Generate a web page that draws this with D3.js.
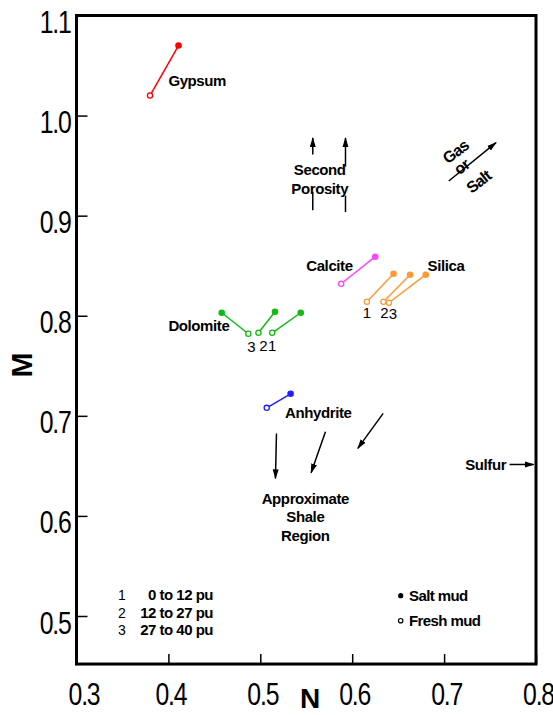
<!DOCTYPE html>
<html>
<head>
<meta charset="utf-8">
<script src="https://cdn.jsdelivr.net/npm/d3@7"></script>
<style>
  body { margin: 0; background: #fff; }
  svg text { font-family: "Liberation Sans", Arial, Helvetica, sans-serif; }
</style>
</head>
<body>
<div id="container"></div>
<script>
// M-N crossplot data
var minerals  = ["Gypsum", "Calcite", "Silica", "Silica", "Silica", "Dolomite", "Dolomite", "Dolomite", "Anhydrite"];
var porGroup  = ["", "", "1", "2", "3", "1", "2", "3", ""];
var nFresh    = [0.380, 0.588, 0.616, 0.634, 0.640, 0.513, 0.498, 0.487, 0.507];
var mFresh    = [1.020, 0.832, 0.814, 0.814, 0.813, 0.783, 0.783, 0.782, 0.708];
var nSalt     = [0.411, 0.625, 0.645, 0.663, 0.680, 0.544, 0.516, 0.458, 0.533];
var mSalt     = [1.070, 0.859, 0.842, 0.841, 0.841, 0.803, 0.804, 0.803, 0.722];

var xTicks = [0.3, 0.4, 0.5, 0.6, 0.7, 0.8];
var yTicks = [0.5, 0.6, 0.7, 0.8, 0.9, 1.0, 1.1];
var puGroups = ["1", "2", "3"];
var puRanges = ["0 to 12 pu", "12 to 27 pu", "27 to 40 pu"];
var mudTypes = ["Salt mud", "Fresh mud"];

var colorOf = {
    "Gypsum": "#ff0000",
    "Calcite": "#ff44ff",
    "Silica": "#ff9933",
    "Dolomite": "#11bb11",
    "Anhydrite": "#1f1fff"
};

var width = 553, height = 715;

var svg = d3.select("#container").append("svg")
    .attr("width", width)
    .attr("height", height);

var x = d3.scaleLinear().domain([0.3, 0.8]).range([76.5, 536]);
var y = d3.scaleLinear().domain([0.5, 1.1]).range([616, 15.5]);
var yBottom = 0.452;

// arrow head
svg.append("defs").append("marker")
    .attr("id", "head")
    .attr("viewBox", "0 0 10 10")
    .attr("refX", 9).attr("refY", 5)
    .attr("markerWidth", 10).attr("markerHeight", 10)
    .attr("markerUnits", "userSpaceOnUse")
    .attr("orient", "auto")
  .append("path")
    .attr("d", "M0,2 L10,5 L0,8 Z")
    .attr("fill", "#000");

// axes (condensed tick font, like the original)
var sx = 0.8;
var xAxis = svg.append("g")
    .attr("transform", "translate(0," + y(yBottom) + ")")
    .call(d3.axisBottom(x).tickValues(xTicks).tickSizeInner(-10).tickSizeOuter(0)
        .tickPadding(19).tickFormat(d3.format(".1f")));
xAxis.select(".domain").remove();
xAxis.selectAll("line").attr("stroke-width", 1.5);
xAxis.selectAll("text")
    .attr("font-size", 31)
    .attr("letter-spacing", "-1.5px")
    .attr("transform", "scale(" + sx + ",1)")
    .attr("x", function(d) { return (d === 0.3 ? 7 : 2) / sx; })
    .attr("fill", "#000");

var yAxis = svg.append("g")
    .attr("transform", "translate(" + x(0.3) + ",0)")
    .call(d3.axisLeft(y).tickValues(yTicks).tickSizeInner(-11).tickSizeOuter(0)
        .tickPadding(8).tickFormat(d3.format(".1f")));
yAxis.select(".domain").remove();
yAxis.selectAll("line").attr("stroke-width", 1.5);
yAxis.selectAll("text")
    .attr("font-size", 31)
    .attr("letter-spacing", "-1.5px")
    .attr("transform", "scale(" + sx + ",1)")
    .attr("x", -6 / sx)
    .attr("dy", "0.55em")
    .attr("fill", "#000");

// frame
svg.append("rect")
    .attr("x", x(0.3)).attr("y", y(1.1))
    .attr("width", x(0.8) - x(0.3))
    .attr("height", y(yBottom) - y(1.1))
    .attr("fill", "none")
    .attr("stroke", "#000")
    .attr("stroke-width", 3);

// axis titles
svg.append("text")
    .attr("x", 310).attr("y", 708)
    .attr("text-anchor", "middle")
    .attr("font-size", 28).attr("font-weight", "bold")
    .text("N");
svg.append("text")
    .attr("transform", "translate(32,365) rotate(-90)")
    .attr("text-anchor", "middle")
    .attr("font-size", 30).attr("font-weight", "bold")
    .text("M");

// mineral lines fresh -> salt
var idx = d3.range(minerals.length);
svg.append("g").selectAll("line")
    .data(idx).enter().append("line")
    .attr("x1", function(i) { return x(nFresh[i]); })
    .attr("y1", function(i) { return y(mFresh[i]); })
    .attr("x2", function(i) { return x(nSalt[i]); })
    .attr("y2", function(i) { return y(mSalt[i]); })
    .attr("stroke", function(i) { return colorOf[minerals[i]]; })
    .attr("stroke-width", 1.5);

svg.append("g").selectAll("circle")
    .data(idx).enter().append("circle")
    .attr("cx", function(i) { return x(nSalt[i]); })
    .attr("cy", function(i) { return y(mSalt[i]); })
    .attr("r", 3.3)
    .attr("fill", function(i) { return colorOf[minerals[i]]; });

svg.append("g").selectAll("circle")
    .data(idx).enter().append("circle")
    .attr("cx", function(i) { return x(nFresh[i]); })
    .attr("cy", function(i) { return y(mFresh[i]); })
    .attr("r", 2.6)
    .attr("fill", "#fff")
    .attr("stroke", function(i) { return colorOf[minerals[i]]; })
    .attr("stroke-width", 1.3);

// porosity group numbers under fresh points
var numDx = {"Silica": [0, 1, 4], "Dolomite": [0, 5, 3]};
var numDy = {"Silica": 16.5, "Dolomite": 18.5};
svg.append("g").selectAll("text")
    .data(idx.filter(function(i) { return porGroup[i] !== ""; }))
    .enter().append("text")
    .attr("x", function(i) { return x(nFresh[i]) + numDx[minerals[i]][+porGroup[i] - 1]; })
    .attr("y", function(i) { return y(mFresh[i]) + numDy[minerals[i]]; })
    .attr("text-anchor", "middle")
    .attr("font-size", 15)
    .text(function(i) { return porGroup[i]; });

// labels
function label(txt, n, m, anchor) {
    svg.append("text")
        .attr("x", x(n)).attr("y", y(m))
        .attr("text-anchor", anchor || "start")
        .attr("font-size", 15).attr("font-weight", "bold")
        .attr("letter-spacing", "-0.4px")
        .text(txt);
}
label("Gypsum", 0.400, 1.030);
label("Calcite", 0.550, 0.845);
label("Silica", 0.682, 0.845);
label("Dolomite", 0.400, 0.785);
label("Anhydrite", 0.527, 0.698);
label("Approximate", 0.549, 0.612, "middle");
label("Shale", 0.549, 0.594, "middle");
label("Region", 0.549, 0.575, "middle");
label("Sulfur", 0.723, 0.646);
label("Second", 0.5647, 0.941, "middle");
label("Porosity", 0.5647, 0.922, "middle");

// arrows
function arrow(n1, m1, n2, m2, head) {
    var l = svg.append("line")
        .attr("x1", x(n1)).attr("y1", y(m1))
        .attr("x2", x(n2)).attr("y2", y(m2))
        .attr("stroke", "#000")
        .attr("stroke-width", 1.5);
    if (head !== false) l.attr("marker-end", "url(#head)");
}
arrow(0.5176, 0.6824, 0.5165, 0.6375);
arrow(0.5709, 0.6840, 0.5553, 0.6431);
arrow(0.6337, 0.7024, 0.6061, 0.6675);
arrow(0.7712, 0.6514, 0.7975, 0.6514);
// second porosity
arrow(0.5571, 0.961, 0.5571, 0.9775);
arrow(0.5571, 0.9053, 0.5571, 0.924, false);
arrow(0.5927, 0.949, 0.5927, 0.9775);
arrow(0.5927, 0.9036, 0.5927, 0.920, false);
// gas or salt
arrow(0.7051, 0.9346, 0.7565, 0.9730);

var gas = [["Gas", 459, 156], ["or", 465, 171], ["Salt", 482, 186]];
svg.append("g").selectAll("text")
    .data(gas).enter().append("text")
    .attr("transform", function(d) { return "translate(" + d[1] + "," + d[2] + ") rotate(-38)"; })
    .attr("text-anchor", "middle")
    .attr("font-size", 16).attr("font-weight", "bold")
    .attr("letter-spacing", "-0.8px")
    .text(function(d) { return d[0]; });

// legend: porosity groups
var lg = svg.append("g").selectAll("g")
    .data(d3.range(puGroups.length)).enter().append("g")
    .attr("transform", function(i) { return "translate(0," + (600 + i * 17.5) + ")"; });
lg.append("text").attr("x", 122).attr("text-anchor", "middle")
    .attr("font-size", 14)
    .text(function(i) { return puGroups[i]; });
lg.append("text").attr("x", 213).attr("text-anchor", "end")
    .attr("font-size", 15).attr("font-weight", "bold")
    .attr("letter-spacing", "-0.5px")
    .text(function(i) { return puRanges[i]; });

// legend: mud
var mg = svg.append("g").selectAll("g")
    .data(d3.range(mudTypes.length)).enter().append("g")
    .attr("transform", function(i) { return "translate(0," + (595.7 + i * 25) + ")"; });
mg.append("circle").attr("cx", 400.7).attr("cy", 0)
    .attr("r", function(i) { return i === 0 ? 2.6 : 2.2; })
    .attr("fill", function(i) { return i === 0 ? "#000" : "#fff"; })
    .attr("stroke", "#000")
    .attr("stroke-width", function(i) { return i === 0 ? 0 : 1.2; });
mg.append("text").attr("x", 409).attr("y", 5.5)
    .attr("font-size", 15).attr("font-weight", "bold")
    .attr("letter-spacing", "-0.6px")
    .text(function(i) { return mudTypes[i]; });
</script>
</body>
</html>
